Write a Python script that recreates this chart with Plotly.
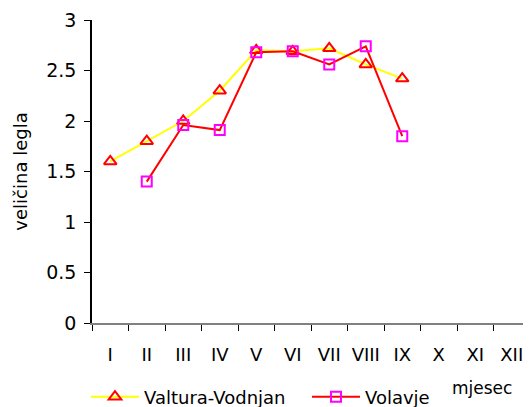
import plotly.graph_objects as go

months = ["I", "II", "III", "IV", "V", "VI", "VII", "VIII", "IX", "X", "XI", "XII"]
valtura_x = ["I", "II", "III", "IV", "V", "VI", "VII", "VIII", "IX"]
valtura_y = [1.60, 1.80, 2.00, 2.30, 2.70, 2.69, 2.72, 2.56, 2.42]
volavje_x = ["II", "III", "IV", "V", "VI", "VII", "VIII", "IX"]
volavje_y = [1.40, 1.96, 1.91, 2.68, 2.69, 2.56, 2.74, 1.85]

FONT = "DejaVu Sans, Liberation Sans, Arial, sans-serif"
W, H = 523, 399  # page body has an 8px margin
L, T, PW, PH = 84, 12, 438, 303

fig = go.Figure()
fig.add_trace(go.Scatter(
    x=valtura_x, y=valtura_y, name="Valtura-Vodnjan", mode="lines+markers",
    line=dict(color="#FFFF00", width=2),
    marker=dict(symbol="triangle-up-open", color="#FF0000", size=11, line=dict(width=2, color="#FF0000")),
))
fig.add_trace(go.Scatter(
    x=volavje_x, y=volavje_y, name="Volavje", mode="lines+markers",
    line=dict(color="#FF0000", width=2),
    marker=dict(symbol="square-open", color="#FF00FF", size=10, line=dict(width=2, color="#FF00FF")),
))

fig.update_layout(
    width=W, height=H,
    margin=dict(l=L, r=W - L - PW, t=T, b=H - T - PH, autoexpand=False),
    paper_bgcolor="white", plot_bgcolor="white",
    font=dict(family=FONT, size=18, color="black"),
    showlegend=True,
    legend=dict(orientation="h", xref="paper", yref="paper",
                x=(78 - L) / PW, xanchor="left", y=(T + PH - 389) / PH, yanchor="middle",
                font=dict(size=18), entrywidth=158, entrywidthmode="pixels",
                itemwidth=48, bgcolor="rgba(0,0,0,0)", borderwidth=0),
    xaxis=dict(type="category", categoryorder="array", categoryarray=months,
               range=[-0.5, 11.5], showgrid=False, zeroline=False,
               showline=True, linecolor="#808080", linewidth=2,
               ticks="outside", tickson="boundaries", ticklen=6, tickcolor="black",
               tickfont=dict(size=18), tickangle=0, ticklabelstandoff=14,
               automargin=False, fixedrange=True),
    yaxis=dict(range=[0, 3], dtick=0.5, showgrid=False, zeroline=False,
               showline=True, linecolor="black", linewidth=1.5,
               ticks="outside", ticklen=6, tickcolor="black",
               tickfont=dict(size=19), ticklabelstandoff=4, automargin=False,
               title=dict(text="veličina legla", font=dict(size=18), standoff=14)),
    annotations=[dict(text="mjesec", xref="paper", yref="paper",
                      x=(482 - 92) / PW, y=(323 - 388) / PH,
                      showarrow=False, font=dict(size=17), xanchor="center", yanchor="middle")],
)

fig.write_html("out.html")
